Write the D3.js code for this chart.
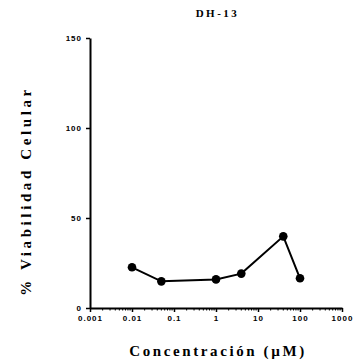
<!DOCTYPE html>
<html>
<head>
<meta charset="utf-8">
<script src="https://cdn.jsdelivr.net/npm/d3@7"></script>
<style>
  body { margin: 0; background: #fff; }
  svg { display: block; }
</style>
</head>
<body>
<div class="canvas"></div>
<script>
// data
const concentrations = [0.01, 0.05, 1, 4, 40, 100];
const viability = [22.6, 14.8, 15.9, 19.1, 39.8, 16.5];
const xTickValues = [0.001, 0.01, 0.1, 1, 10, 100, 1000];
const xTickLabels = ["0.001", "0.01", "0.1", "1", "10", "100", "1000"];
const yTickValues = [0, 50, 100, 150];

const svgWidth = 363, svgHeight = 364;
const margin = { top: 38, right: 21, bottom: 56, left: 90 };
const graphWidth = svgWidth - margin.left - margin.right;
const graphHeight = svgHeight - margin.top - margin.bottom;

const svg = d3.select('.canvas').append('svg')
  .attr("width", svgWidth)
  .attr("height", svgHeight);

const graph = svg.append('g')
  .attr("transform", `translate(${margin.left} ${margin.top})`);

const xScale = d3.scaleLog().domain([0.001, 1000]).range([0, graphWidth]);
const yScale = d3.scaleLinear().domain([0, 150]).range([graphHeight, 0]);

// minor ticks 2..9 in each decade
const minorTicks = [];
for (let e = -3; e < 3; e++) {
  for (let k = 2; k <= 9; k++) minorTicks.push(k * Math.pow(10, e));
}

const tickFont = "'Liberation Sans', Arial, sans-serif";
const serifFont = "'Liberation Serif', 'Times New Roman', serif";

// x axis
const xAxisGroup = graph.append('g')
  .attr("transform", `translate(0 ${graphHeight})`);
xAxisGroup.call(d3.axisBottom(xScale)
  .tickValues(xTickValues)
  .tickFormat((d, i) => xTickLabels[i])
  .tickSize(4)
  .tickPadding(3)
  .tickSizeOuter(0));
xAxisGroup.selectAll('.minor')
  .data(minorTicks)
  .enter().append('line')
  .attr("class", "minor")
  .attr("x1", d => xScale(d)).attr("x2", d => xScale(d))
  .attr("y1", 0).attr("y2", 2.5)
  .attr("stroke", "#000").attr("stroke-width", 1);

// y axis
const yAxisGroup = graph.append('g');
yAxisGroup.call(d3.axisLeft(yScale)
  .tickValues(yTickValues)
  .tickSize(4)
  .tickPadding(4)
  .tickSizeOuter(0));

svg.selectAll('.domain').attr("stroke", "#000").attr("stroke-width", 2);
svg.selectAll('.tick line').attr("stroke", "#000").attr("stroke-width", 1.5);
svg.selectAll('.tick text')
  .style("font-family", tickFont)
  .style("font-size", "8px")
  .style("font-weight", "bold")
  .style("letter-spacing", "1px")
  .attr("fill", "#000");

// line and points
const points = concentrations.map((c, i) => ({ c: c, v: viability[i] }));
graph.append('path')
  .datum(points)
  .attr("fill", "none")
  .attr("stroke", "#000")
  .attr("stroke-width", 2)
  .attr("d", d3.line().x(d => xScale(d.c)).y(d => yScale(d.v)));

graph.selectAll('circle')
  .data(points)
  .enter().append('circle')
  .attr("cx", d => xScale(d.c))
  .attr("cy", d => yScale(d.v))
  .attr("r", 4.3)
  .attr("fill", "#000");

// title
svg.append('text')
  .attr("x", margin.left + graphWidth / 2 + 1.5)
  .attr("y", 17)
  .attr("text-anchor", "middle")
  .style("font-family", serifFont)
  .style("font-size", "11px")
  .style("font-weight", "bold")
  .style("letter-spacing", "2.5px")
  .text("DH-13");

// x title
svg.append('text')
  .attr("x", margin.left + graphWidth / 2 + 2)
  .attr("y", 356)
  .attr("text-anchor", "middle")
  .style("font-family", serifFont)
  .style("font-size", "15px")
  .style("font-weight", "bold")
  .style("letter-spacing", "2.6px")
  .text("Concentración (µM)");

// y title
svg.append('text')
  .attr("transform", `translate(31 ${margin.top + graphHeight / 2 + 18}) rotate(-90)`)
  .attr("text-anchor", "middle")
  .style("font-family", serifFont)
  .style("font-size", "15px")
  .style("font-weight", "bold")
  .style("letter-spacing", "3.6px")
  .text("% Viabilidad Celular");
</script>
</body>
</html>
